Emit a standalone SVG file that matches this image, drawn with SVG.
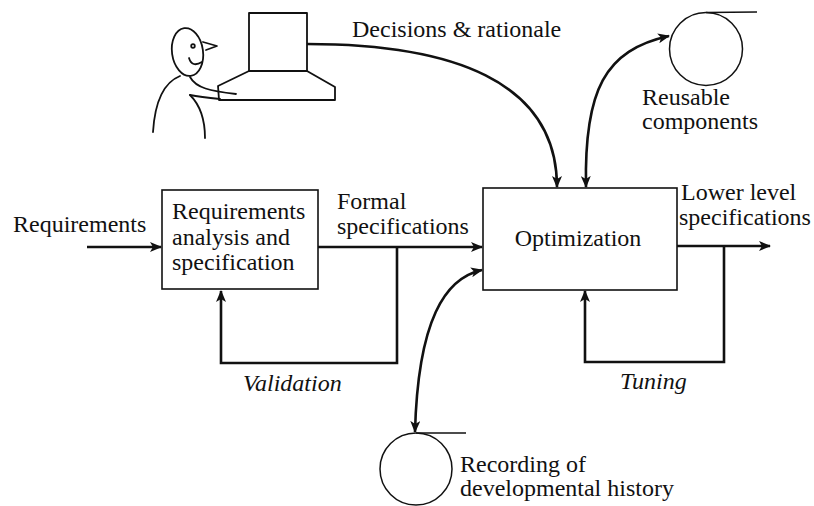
<svg xmlns="http://www.w3.org/2000/svg" width="814" height="506" viewBox="0 0 814 506">
  <defs>
    <style>
      .lbl { font-family: "Liberation Serif", "Times New Roman", serif; font-size: 24px; fill: #111; }
      .it { font-style: italic; }
      .box { fill: #fff; stroke: #111; stroke-width: 1.6; }
      .store { fill: none; stroke: #111; stroke-width: 1.5; }
      .flow { fill: none; stroke: #111; stroke-width: 2.6; }
      .sketch { fill: none; stroke: #111; stroke-width: 1.8; stroke-linecap: round; stroke-linejoin: round; }
    </style>
    <marker id="arrow" viewBox="0 0 12 10" refX="11" refY="5" markerWidth="12" markerHeight="10" markerUnits="userSpaceOnUse" orient="auto-start-reverse">
      <path d="M0,0 L12,5 L0,10 L3,5 Z" fill="#111"/>
    </marker>
  </defs>

  <rect width="814" height="506" fill="#fff"/>

  <!-- designer at a terminal -->
  <g id="designer">
    <ellipse class="sketch" cx="187.5" cy="52" rx="15.5" ry="24" transform="rotate(-8 187.5 52)"/>
    <circle cx="193" cy="46" r="1.8" class="sketch"/>
    <path class="sketch" d="M203,42 L217,46 L206,50"/>
    <path class="sketch" d="M189,58 Q192,68 202,62"/>
    <path class="sketch" d="M180,76 C165,82 155,100 153,132"/>
    <path class="sketch" d="M190,77 C196,88 210,91 236,94"/>
    <path class="sketch" d="M190,95 C200,105 205,120 205,138"/>
    <path class="sketch" d="M190,95 C200,97 210,98 220,99"/>
    <!-- terminal -->
    <rect class="sketch" x="249" y="13" width="58" height="58"/>
    <path class="sketch" d="M249,71 L218,86 L219,100 H335 V87 L307,71"/>
  </g>

  <g id="reusable">
    <circle class="store" cx="706" cy="49" r="36.5"/>
    <line class="store" x1="706" y1="12.5" x2="757" y2="12"/>
    <text class="lbl" x="642" y="105">Reusable</text>
    <text class="lbl" x="642" y="129">components</text>
  </g>

  <g id="history">
    <circle class="store" cx="416" cy="469" r="36"/>
    <line class="store" x1="416" y1="433" x2="466" y2="433"/>
    <text class="lbl" x="460" y="472">Recording of</text>
    <text class="lbl" x="460" y="496">developmental history</text>
  </g>

  <g id="requirements-analysis">
    <rect class="box" x="162" y="190" width="156" height="99"/>
    <text class="lbl" x="172" y="219">Requirements</text>
    <text class="lbl" x="172" y="245">analysis and</text>
    <text class="lbl" x="172" y="270">specification</text>
  </g>

  <g id="optimization">
    <rect class="box" x="483" y="188" width="194" height="102"/>
    <text class="lbl" x="578" y="246" text-anchor="middle">Optimization</text>
  </g>

  <g id="connectors">
    <path class="flow" d="M87,247 H161" marker-end="url(#arrow)"/>
    <path class="flow" d="M318,247 H482" marker-end="url(#arrow)"/>
    <path class="flow" d="M397,247 V363 H221 V291" marker-end="url(#arrow)"/>
    <path class="flow" d="M677,246 H770" marker-end="url(#arrow)"/>
    <path class="flow" d="M724,246 V362 H585 V291" marker-end="url(#arrow)"/>
    <path class="flow" d="M307,44 C450,44 557,80 557,187" marker-end="url(#arrow)"/>
    <path class="flow" d="M586,187 C584,90 605,50 669,36" marker-start="url(#arrow)" marker-end="url(#arrow)"/>
    <path class="flow" d="M482,270 C445,278 418,320 415,432" marker-start="url(#arrow)" marker-end="url(#arrow)"/>
  </g>

  <g id="labels">
    <text class="lbl" x="13" y="232">Requirements</text>
    <text class="lbl" x="337" y="209">Formal</text>
    <text class="lbl" x="337" y="234">specifications</text>
    <text class="lbl" x="681" y="200">Lower level</text>
    <text class="lbl" x="679" y="225">specifications</text>
    <text class="lbl" x="352" y="37">Decisions &amp; rationale</text>
    <text class="lbl it" x="243" y="391">Validation</text>
    <text class="lbl it" x="620" y="389">Tuning</text>
  </g>
</svg>
